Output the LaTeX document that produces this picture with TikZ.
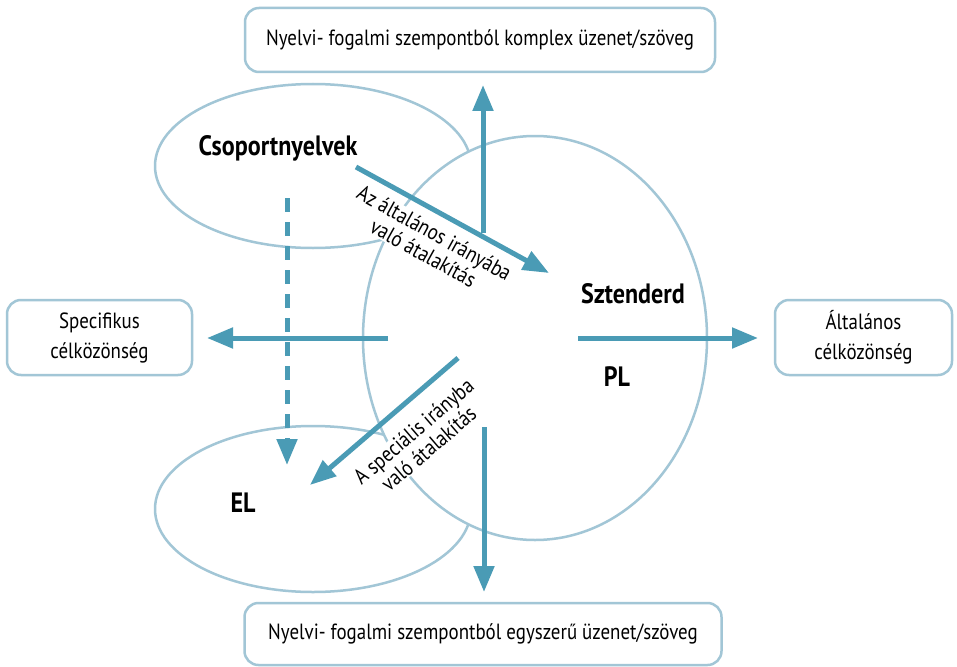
\documentclass[tikz,border=0pt]{standalone}
\usepackage{fontspec}
\setmainfont{PT Sans}[FakeStretch=0.86]
\usetikzlibrary{arrows.meta}
\definecolor{arrowteal}{HTML}{4A9BB5}
\definecolor{linelight}{HTML}{A2C6D6}
\begin{document}
\begin{tikzpicture}[x=1pt,y=-1pt,
  box/.style={draw=linelight, line width=2.5pt, rounded corners=14pt, align=center,
    font=\fontsize{22}{30}\selectfont, inner sep=0pt},
  blob/.style={draw=linelight, line width=2.5pt},
  flow/.style={draw=arrowteal, line width=5pt, -{Triangle[length=26pt,width=20pt]}},
  dflow/.style={flow, dash pattern=on 14pt off 10pt},
  lbl/.style={font=\bfseries\fontsize{28}{30}\selectfont, inner sep=0pt},
  rotlbl/.style={fill=white, align=center, font=\fontsize{22}{23}\selectfont, inner sep=1pt}
]
\useasboundingbox (0,0) rectangle (957,666);
\fill[white] (0,0) rectangle (957,666);

% small ellipses (partly hidden by the big one)
\draw[blob] (313,166) ellipse [x radius=158pt, y radius=82pt];
\draw[blob] (313,509) ellipse [x radius=158pt, y radius=83pt];
% big ellipse
\draw[blob, fill=white] (535,338) ellipse [x radius=172pt, y radius=202pt];

% boxes
\node[box, minimum width=470pt, minimum height=64pt] (top) at (480,40)
  {Nyelvi- fogalmi szempontból komplex üzenet/szöveg};
\node[box, minimum width=477pt, minimum height=62pt] (bottom) at (483,634)
  {Nyelvi- fogalmi szempontból egyszerű üzenet/szöveg};
\node[box, minimum width=185pt, minimum height=75pt] (left) at (99.5,337.5)
  {Specifikus\\célközönség};
\node[box, minimum width=177pt, minimum height=75pt] (right) at (863.5,337.5)
  {Általános\\célközönség};

% labels
\node[lbl] (csop) at (278,148) {Csoportnyelvek};
\node[lbl] (szt) at (633,294) {Sztenderd};
\node[lbl] (pl) at (617,377) {PL};
\node[lbl] (el) at (243,503) {EL};

% rotated labels
\node[rotlbl, rotate=-29] (gen) at (429,243) {Az általános irányába\\való átalakítás};
\node[rotlbl, rotate=40.6] (spec) at (421,440) {A speciális irányba\\való átalakítás};

% arrow end points
\coordinate (upS) at (483,233);   \coordinate (upE) at (483,85);
\coordinate (dnS) at (484,427);   \coordinate (dnE) at (484,592);
\coordinate (lfS) at (388,338);   \coordinate (lfE) at (207,338);
\coordinate (rtS) at (578,338);   \coordinate (rtE) at (758,338);
\coordinate (g1) at (356,167);    \coordinate (g2) at (549,273);
\coordinate (s1) at (458,358);    \coordinate (s2) at (310,485);
\coordinate (d1) at (287,198);    \coordinate (d2) at (287,465);

\draw[flow] (upS) -- (upE);
\draw[flow] (dnS) -- (dnE);
\draw[flow] (lfS) -- (lfE);
\draw[flow] (rtS) -- (rtE);
\draw[flow] (g1) -- (g2);
\draw[flow] (s1) -- (s2);
\draw[dflow] (d1) -- (d2);
\end{tikzpicture}
\end{document}
